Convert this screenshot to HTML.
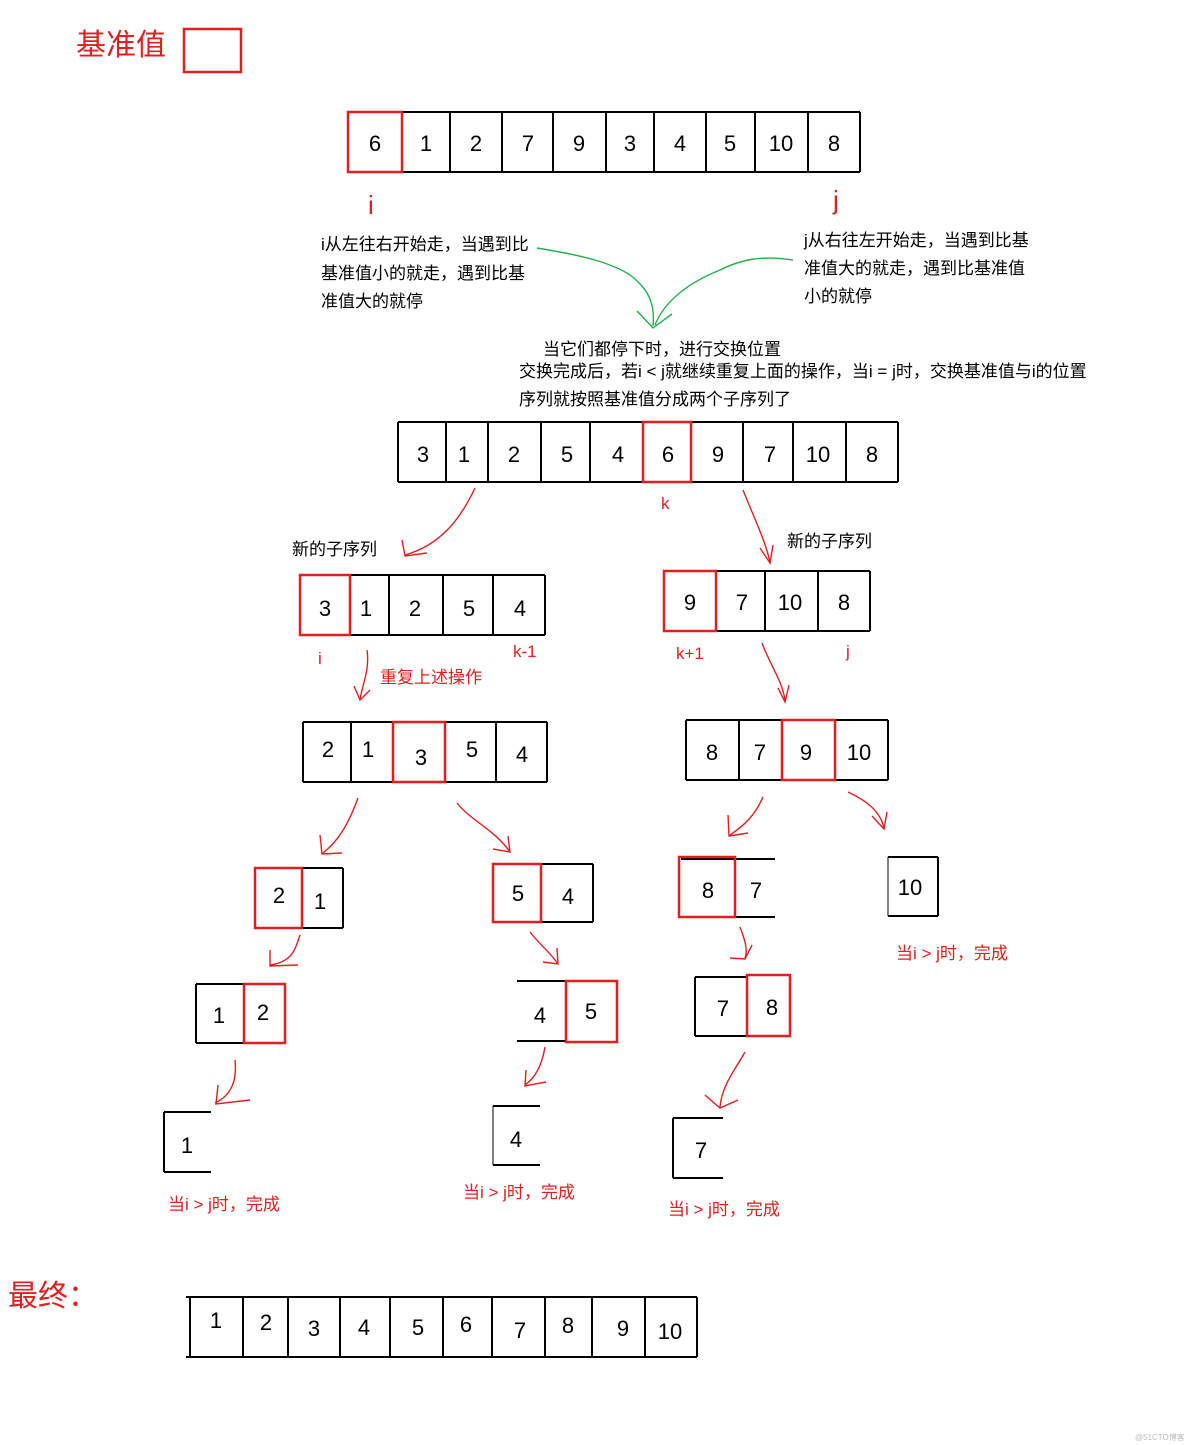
<!DOCTYPE html>
<html><head><meta charset="utf-8"><style>
html,body{margin:0;padding:0;background:#fff}
svg{display:block}
text{font-family:"Liberation Sans","Noto Sans CJK SC",sans-serif}
.n{font-size:22px;fill:#000;text-anchor:middle}
.t{font-size:17px;fill:#000}
.r{font-size:17px;fill:#e02020}
.c{fill:none;stroke:#000;stroke-width:2}
.rc{fill:none;stroke:#e02020;stroke-width:2.5}
.a{fill:none;stroke:#e02020;stroke-width:1.4}
.g{fill:none;stroke:#22b04a;stroke-width:1.4}
</style></head><body>
<svg width="1184" height="1445" viewBox="0 0 1184 1445">
<text x="76" y="55" style="font-size:30px;fill:#e02020">基准值</text>
<rect x="184" y="29" width="57" height="43" class="rc"/>

<g>
<line x1="348" y1="112" x2="860" y2="112" class="c"/><line x1="348" y1="172" x2="860" y2="172" class="c"/>
<line x1="402" y1="112" x2="402" y2="172" class="c"/><line x1="450" y1="112" x2="450" y2="172" class="c"/><line x1="502" y1="112" x2="502" y2="172" class="c"/><line x1="553" y1="112" x2="553" y2="172" class="c"/><line x1="606" y1="112" x2="606" y2="172" class="c"/><line x1="654" y1="112" x2="654" y2="172" class="c"/><line x1="706" y1="112" x2="706" y2="172" class="c"/><line x1="755" y1="112" x2="755" y2="172" class="c"/><line x1="808" y1="112" x2="808" y2="172" class="c"/><line x1="860" y1="112" x2="860" y2="172" class="c"/>
<rect x="348" y="112" width="54" height="60" class="rc"/>
<text class="n" y="151"><tspan x="375">6</tspan><tspan x="426">1</tspan><tspan x="476">2</tspan><tspan x="528">7</tspan><tspan x="579">9</tspan><tspan x="630">3</tspan><tspan x="680">4</tspan><tspan x="730">5</tspan><tspan x="781">10</tspan><tspan x="834">8</tspan></text>
</g>
<text x="368" y="214" style="font-size:26px;fill:#e02020">i</text>
<text x="833" y="209" style="font-size:26px;fill:#e02020">j</text>
<text class="t" x="321" y="250">i从左往右开始走，当遇到比</text>
<text class="t" x="321" y="279">基准值小的就走，遇到比基</text>
<text class="t" x="321" y="307">准值大的就停</text>
<text class="t" x="804" y="246">j从右往左开始走，当遇到比基</text>
<text class="t" x="804" y="274">准值大的就走，遇到比基准值</text>
<text class="t" x="804" y="302">小的就停</text>
<path class="g" d="M537 248 C580 255 610 262 630 275 C650 290 655 305 653 326"/>
<path class="g" d="M793 260 C760 255 740 260 720 270 C690 282 665 300 655 325"/>
<path class="g" d="M637 311 L653 328 L672 314"/>
<text class="t" x="543" y="355">当它们都停下时，进行交换位置</text>
<text class="t" x="519" y="377">交换完成后，若i &lt; j就继续重复上面的操作，当i = j时，交换基准值与i的位置</text>
<text class="t" x="519" y="405">序列就按照基准值分成两个子序列了</text>

<g>
<line x1="398" y1="422" x2="898" y2="422" class="c"/><line x1="398" y1="482" x2="898" y2="482" class="c"/>
<line x1="398" y1="422" x2="398" y2="482" class="c"/><line x1="446" y1="422" x2="446" y2="482" class="c"/><line x1="488" y1="422" x2="488" y2="482" class="c"/><line x1="541" y1="422" x2="541" y2="482" class="c"/><line x1="590" y1="422" x2="590" y2="482" class="c"/><line x1="743" y1="422" x2="743" y2="482" class="c"/><line x1="793" y1="422" x2="793" y2="482" class="c"/><line x1="846" y1="422" x2="846" y2="482" class="c"/><line x1="898" y1="422" x2="898" y2="482" class="c"/>
<rect x="643" y="422" width="48" height="60" class="rc"/>
<text class="n" y="462"><tspan x="423">3</tspan><tspan x="464">1</tspan><tspan x="514">2</tspan><tspan x="567">5</tspan><tspan x="618">4</tspan><tspan x="668">6</tspan><tspan x="718">9</tspan><tspan x="770">7</tspan><tspan x="818">10</tspan><tspan x="872">8</tspan></text>
</g>
<text class="r" x="661" y="509">k</text>
<path class="a" d="M475 488 C460 520 440 545 405 555 M402 540 L405 556 L427 553"/>
<text class="t" x="292" y="555">新的子序列</text>
<path class="a" d="M743 490 C755 520 765 540 770 562 M760 548 L770 563 L773 545"/>
<text class="t" x="787" y="547">新的子序列</text>

<g>
<line x1="300" y1="575" x2="545" y2="575" class="c"/><line x1="300" y1="635" x2="545" y2="635" class="c"/>
<line x1="389" y1="575" x2="389" y2="635" class="c"/><line x1="443" y1="575" x2="443" y2="635" class="c"/><line x1="493" y1="575" x2="493" y2="635" class="c"/><line x1="545" y1="575" x2="545" y2="635" class="c"/><line x1="300" y1="575" x2="300" y2="635" class="c"/>
<rect x="300" y="575" width="50" height="60" class="rc"/>
<text class="n" y="616"><tspan x="325">3</tspan><tspan x="366">1</tspan><tspan x="415">2</tspan><tspan x="469">5</tspan><tspan x="520">4</tspan></text>
</g>
<text class="r" x="318" y="664">i</text><text class="r" x="513" y="657">k-1</text>
<path class="a" d="M367 650 C370 670 362 685 360 700 M354 686 L360 700 L370 690"/>
<text class="r" x="380" y="683">重复上述操作</text>
<g>
<line x1="664" y1="571" x2="870" y2="571" class="c"/><line x1="664" y1="631" x2="870" y2="631" class="c"/>
<line x1="765" y1="571" x2="765" y2="631" class="c"/><line x1="818" y1="571" x2="818" y2="631" class="c"/><line x1="870" y1="571" x2="870" y2="631" class="c"/>
<rect x="664" y="571" width="52" height="60" class="rc"/>
<text class="n" y="610"><tspan x="690">9</tspan><tspan x="742">7</tspan><tspan x="790">10</tspan><tspan x="844">8</tspan></text>
</g>
<text class="r" x="676" y="659">k+1</text><text class="r" x="846" y="657">j</text>
<path class="a" d="M762 643 C770 665 782 680 785 700 M778 688 L785 702 L789 685"/>

<g>
<line x1="303" y1="722" x2="547" y2="722" class="c"/><line x1="303" y1="782" x2="547" y2="782" class="c"/>
<line x1="303" y1="722" x2="303" y2="782" class="c"/><line x1="351" y1="722" x2="351" y2="782" class="c"/><line x1="496" y1="722" x2="496" y2="782" class="c"/><line x1="547" y1="722" x2="547" y2="782" class="c"/>
<rect x="393" y="722" width="52" height="60" class="rc"/>
<text class="n" y="757"><tspan x="328">2</tspan><tspan x="368">1</tspan><tspan x="421" dy="8">3</tspan><tspan x="472" dy="-8">5</tspan><tspan x="522" dy="5">4</tspan></text>
</g>
<g>
<line x1="686" y1="720" x2="888" y2="720" class="c"/><line x1="686" y1="780" x2="888" y2="780" class="c"/>
<line x1="686" y1="720" x2="686" y2="780" class="c"/><line x1="739" y1="720" x2="739" y2="780" class="c"/><line x1="888" y1="720" x2="888" y2="780" class="c"/>
<rect x="782" y="720" width="53" height="60" class="rc"/>
<text class="n" y="760"><tspan x="712">8</tspan><tspan x="760">7</tspan><tspan x="806">9</tspan><tspan x="859">10</tspan></text>
</g>
<path class="a" d="M358 798 C350 820 340 840 323 853 M320 835 L322 854 L342 853"/>
<path class="a" d="M457 803 C470 820 495 830 510 852 M493 849 L510 852 L508 836"/>
<path class="a" d="M763 797 C755 815 745 825 730 835 M728 815 L729 836 L748 833"/>
<path class="a" d="M848 792 C865 800 880 810 884 828 M872 816 L884 829 L887 812"/>

<line x1="302" y1="868" x2="343" y2="868" class="c"/><line x1="302" y1="928" x2="343" y2="928" class="c"/><line x1="343" y1="868" x2="343" y2="928" class="c"/>
<rect x="255" y="868" width="47" height="60" class="rc"/>
<text class="n" y="903"><tspan x="279">2</tspan><tspan x="320" dy="6">1</tspan></text>
<line x1="541" y1="864" x2="593" y2="864" class="c"/><line x1="541" y1="922" x2="593" y2="922" class="c"/><line x1="593" y1="864" x2="593" y2="922" class="c"/>
<rect x="493" y="864" width="48" height="58" class="rc"/>
<text class="n" y="901"><tspan x="518">5</tspan><tspan x="568" dy="3">4</tspan></text>
<line x1="681" y1="859" x2="775" y2="859" class="c"/><line x1="681" y1="917" x2="775" y2="917" class="c"/>
<rect x="679" y="857" width="56" height="60" class="rc"/>
<text class="n" y="898"><tspan x="708">8</tspan><tspan x="756">7</tspan></text>
<line x1="888" y1="857" x2="938" y2="857" class="c"/><line x1="888" y1="916" x2="938" y2="916" class="c"/><line x1="938" y1="857" x2="938" y2="916" class="c"/><line x1="888" y1="857" x2="888" y2="916" stroke="#000" stroke-width="1"/>
<text class="n" y="895" x="910">10</text>
<text class="r" x="896" y="959">当i &gt; j时，完成</text>
<path class="a" d="M300 935 C295 950 292 962 270 965 M270 950 L270 966 L298 965"/>
<path class="a" d="M530 932 C540 945 550 952 558 964 M543 962 L558 964 L557 948"/>
<path class="a" d="M740 927 C745 940 748 950 745 958 M730 958 L745 959 L752 945"/>

<line x1="196" y1="984" x2="244" y2="984" class="c"/><line x1="196" y1="1043" x2="244" y2="1043" class="c"/><line x1="196" y1="984" x2="196" y2="1043" class="c"/>
<rect x="244" y="984" width="41" height="59" class="rc"/>
<text class="n" y="1023"><tspan x="219">1</tspan><tspan x="263" dy="-3">2</tspan></text>
<line x1="517" y1="981" x2="566" y2="981" class="c"/><line x1="517" y1="1041" x2="566" y2="1041" class="c"/>
<rect x="566" y="981" width="51" height="61" class="rc"/>
<text class="n" y="1023"><tspan x="540">4</tspan><tspan x="591" dy="-4">5</tspan></text>
<line x1="695" y1="977" x2="747" y2="977" class="c"/><line x1="695" y1="1036" x2="747" y2="1036" class="c"/><line x1="695" y1="977" x2="695" y2="1036" class="c"/>
<rect x="747" y="975" width="43" height="61" class="rc"/>
<text class="n" y="1016"><tspan x="723">7</tspan><tspan x="772" dy="-1">8</tspan></text>
<path class="a" d="M235 1060 C237 1080 232 1095 215 1103 M218 1085 L216 1104 L250 1100"/>
<path class="a" d="M545 1047 C542 1065 535 1078 525 1085 M526 1070 L525 1086 L546 1082"/>
<path class="a" d="M745 1052 C735 1070 722 1085 720 1107 M705 1095 L720 1108 L738 1100"/>

<line x1="164" y1="1112" x2="211" y2="1112" class="c"/><line x1="164" y1="1172" x2="211" y2="1172" class="c"/><line x1="164" y1="1112" x2="164" y2="1172" class="c"/>
<text class="n" x="187" y="1153">1</text>
<line x1="493" y1="1106" x2="540" y2="1106" class="c"/><line x1="493" y1="1165" x2="540" y2="1165" class="c"/><line x1="493" y1="1106" x2="493" y2="1165" stroke="#000" stroke-width="1"/>
<text class="n" x="516" y="1147">4</text>
<line x1="673" y1="1118" x2="723" y2="1118" class="c"/><line x1="673" y1="1178" x2="723" y2="1178" class="c"/><line x1="673" y1="1118" x2="673" y2="1178" class="c"/>
<text class="n" x="701" y="1158">7</text>
<text class="r" x="168" y="1210">当i &gt; j时，完成</text>
<text class="r" x="463" y="1198">当i &gt; j时，完成</text>
<text class="r" x="668" y="1215">当i &gt; j时，完成</text>

<text x="8" y="1306" style="font-size:30px;fill:#e02020">最终：</text>
<g>
<line x1="186" y1="1297" x2="697" y2="1297" class="c"/><line x1="186" y1="1357" x2="697" y2="1357" class="c"/>
<line x1="190" y1="1297" x2="190" y2="1357" class="c"/><line x1="243" y1="1297" x2="243" y2="1357" class="c"/><line x1="288" y1="1297" x2="288" y2="1357" class="c"/><line x1="340" y1="1297" x2="340" y2="1357" class="c"/><line x1="390" y1="1297" x2="390" y2="1357" class="c"/><line x1="443" y1="1297" x2="443" y2="1357" class="c"/><line x1="492" y1="1297" x2="492" y2="1357" class="c"/><line x1="545" y1="1297" x2="545" y2="1357" class="c"/><line x1="592" y1="1297" x2="592" y2="1357" class="c"/><line x1="645" y1="1297" x2="645" y2="1357" class="c"/><line x1="697" y1="1297" x2="697" y2="1357" class="c"/>
<text class="n" y="1334"><tspan x="216" dy="-6">1</tspan><tspan x="266" dy="2">2</tspan><tspan x="314" dy="6">3</tspan><tspan x="364" dy="-1">4</tspan><tspan x="418" dy="0">5</tspan><tspan x="466" dy="-3">6</tspan><tspan x="520" dy="6">7</tspan><tspan x="568" dy="-5">8</tspan><tspan x="623" dy="3">9</tspan><tspan x="670" dy="3">10</tspan></text>
</g>
<text x="1135" y="1440" style="font-size:8px;fill:#bbb">@51CTO博客</text>
</svg>
</body></html>
